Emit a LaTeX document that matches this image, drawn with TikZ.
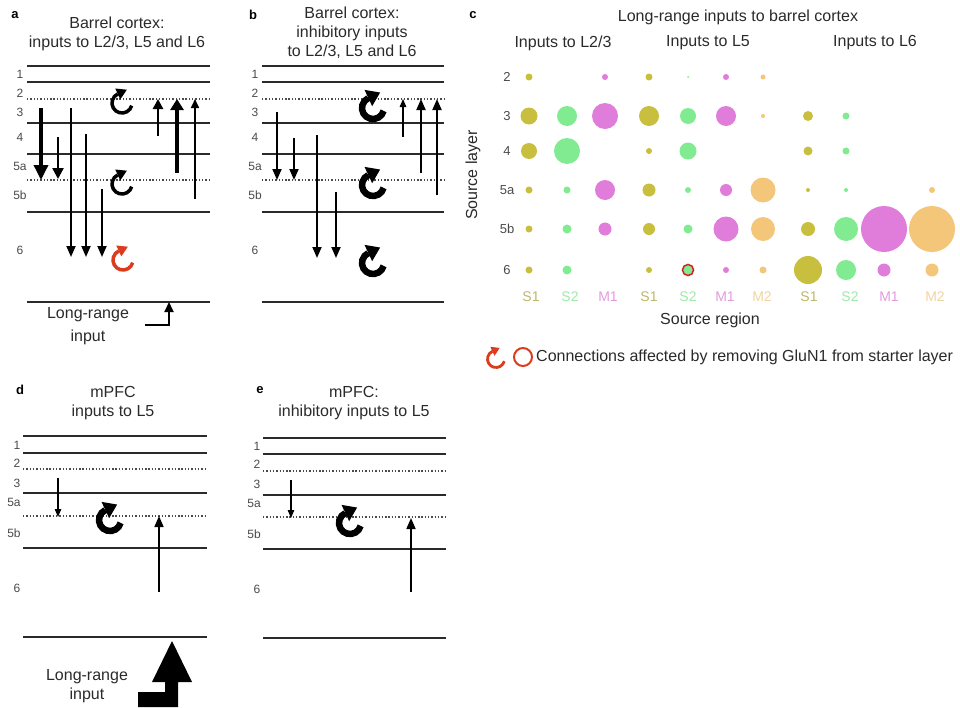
\documentclass[tikz,border=0pt]{standalone}
\usepackage{fontspec}
\setmainfont{Liberation Sans}
\usetikzlibrary{arrows.meta}

\definecolor{ink}{HTML}{2A2A2A}
\definecolor{loopred}{HTML}{DD3B1E}
\definecolor{ringred}{HTML}{C42A1E}
\definecolor{cS1}{HTML}{C9BF3E}
\definecolor{cS2}{HTML}{80EB90}
\definecolor{cM1}{HTML}{E07CDA}
\definecolor{cM2}{HTML}{F3C679}
\definecolor{tS1}{HTML}{BDB66C}
\definecolor{tS2}{HTML}{9DEAA8}
\definecolor{tM1}{HTML}{E29BDE}
\definecolor{tM2}{HTML}{F1D3A0}

\tikzset{
  layer/.style={draw=ink, line width=1.2pt},
  sublayer/.style={draw=ink!85, line width=1.2pt, dash pattern=on 1.4pt off 1.9pt},
  laylbl/.style={font=\fontsize{12}{14}\selectfont, text=ink!85},
  ttl/.style={font=\fontsize{16}{19}\selectfont, text=ink, align=center},
  panel/.style={font=\bfseries\fontsize{13}{15}\selectfont, text=black},
  projthick/.style={draw=black, line width=3.4pt, -{Triangle[length=15pt,width=14pt]}},
  projmid/.style={draw=black, line width=2.4pt, -{Triangle[length=11pt,width=11pt]}},
  proj/.style={draw=black, line width=1.8pt, -{Triangle[length=11pt,width=9pt]}},
  projfine/.style={draw=black, line width=1.1pt, -{Triangle[length=8pt,width=6.5pt]}},
  collbl/.style={font=\fontsize{14}{16}\selectfont},
  rowlbl/.style={font=\fontsize{13}{15}\selectfont, text=ink!85},
}

% recurrent (local) connection: clockwise open circle with a head leaving the top
% #1 name, #2/#3 centre, #4 colour, #5 radius, #6 stroke, #7 head width, #8 head length
\newcommand\recur[8]{%
  \coordinate (#1) at (#2,#3);
  \begin{scope}[shift={(#1)}, x=1pt, y=1pt]
    \draw[#4, line width=#6pt] (-15:#5) arc[start angle=-15, end angle=-245, radius=#5];
    \fill[#4, rotate=115] ({#5+#7/2},0) -- ({#5-#7/2},0) -- (#5,-#8) -- cycle;
  \end{scope}}
% one bubble of the input matrix
\newcommand\bub[4]{\fill[#4] (#1,#2) circle[radius=#3];}

\begin{document}
\begin{tikzpicture}[x=1pt, y=-1pt]
\useasboundingbox (0,0) rectangle (960,707);

% ================= panel a =================
\node[panel] (pa) at (15,15) {a};
\node[ttl] (ta) at (117,34) {Barrel cortex:\\inputs to L2/3, L5 and L6};
\foreach \y in {66,82,123,154,212,302} \draw[layer] (27,\y) -- (210,\y);
\foreach \y in {99,180} \draw[sublayer] (27,\y) -- (210,\y);
\node[laylbl] (la1) at (20,74) {1};
\node[laylbl] (la2) at (20,93) {2};
\node[laylbl] (la3) at (20,112) {3};
\node[laylbl] (la4) at (20,137) {4};
\node[laylbl] (la5a) at (20,166) {5a};
\node[laylbl] (la5b) at (20,195) {5b};
\node[laylbl] (la6) at (20,250) {6};
% descending projections
\coordinate (a1s) at (41,108);  \coordinate (a1e) at (41,180);
\coordinate (a2s) at (58,137);  \coordinate (a2e) at (58,179);
\coordinate (a3s) at (71,108);  \coordinate (a3e) at (71,257);
\coordinate (a4s) at (86,134);  \coordinate (a4e) at (86,257);
\coordinate (a5s) at (102,189); \coordinate (a5e) at (102,257);
\draw[projthick] (a1s) -- (a1e);
\draw[projmid] (a2s) -- (a2e);
\draw[proj] (a3s) -- (a3e);
\draw[proj] (a4s) -- (a4e);
\draw[proj] (a5s) -- (a5e);
% ascending projections
\coordinate (a6s) at (158,136); \coordinate (a6e) at (158,99);
\coordinate (a7s) at (177,173); \coordinate (a7e) at (177,99);
\coordinate (a8s) at (195,199); \coordinate (a8e) at (195,99);
\draw[draw=black, line width=2.6pt, -{Triangle[length=10pt,width=10pt]}] (a6s) -- (a6e);
\draw[draw=black, line width=3.2pt, -{Triangle[length=11pt,width=13pt]}] (a7s) -- (a7e);
\draw[draw=black, line width=1.6pt, -{Triangle[length=9pt,width=8pt]}] (a8s) -- (a8e);
% local loops
\recur{ra1}{122}{103}{black}{10}{3.5}{12}{10}
\recur{ra2}{122}{184}{black}{10}{3.5}{12}{10}
\recur{ra3}{123}{260}{loopred}{10}{3.5}{12}{10}
% long-range input
\node[ttl] (lra1) at (88,315) {Long-range};
\node[ttl] (lra2) at (88,337) {input};
\coordinate (lrs) at (145,325); \coordinate (lre) at (169,302);
\draw[draw=black, line width=2pt, -{Triangle[length=10pt,width=9pt]}] (lrs) -| (lre);

% ================= panel b =================
\node[panel] (pb) at (253,15) {b};
\node[ttl] (tb) at (352,33) {Barrel cortex:\\inhibitory inputs\\to L2/3, L5 and L6};
\foreach \y in {66,82,123,154,212,302} \draw[layer] (262,\y) -- (444,\y);
\foreach \y in {99,180} \draw[sublayer] (262,\y) -- (444,\y);
\node[laylbl] (lb1) at (255,74) {1};
\node[laylbl] (lb2) at (255,93) {2};
\node[laylbl] (lb3) at (255,112) {3};
\node[laylbl] (lb4) at (255,137) {4};
\node[laylbl] (lb5a) at (255,166) {5a};
\node[laylbl] (lb5b) at (255,195) {5b};
\node[laylbl] (lb6) at (255,250) {6};
\coordinate (b1s) at (277,112); \coordinate (b1e) at (277,180);
\coordinate (b2s) at (294,138); \coordinate (b2e) at (294,180);
\coordinate (b3s) at (317,135); \coordinate (b3e) at (317,258);
\coordinate (b4s) at (336,192); \coordinate (b4e) at (336,258);
\draw[proj] (b1s) -- (b1e);
\draw[proj] (b2s) -- (b2e);
\draw[proj] (b3s) -- (b3e);
\draw[proj] (b4s) -- (b4e);
\coordinate (b5s) at (403,137); \coordinate (b5e) at (403,99);
\coordinate (b6s) at (421,173); \coordinate (b6e) at (421,99);
\coordinate (b7s) at (437,195); \coordinate (b7e) at (437,99);
\draw[projfine] (b5s) -- (b5e);
\draw[proj] (b6s) -- (b6e);
\draw[proj] (b7s) -- (b7e);
\recur{rb1}{373}{108}{black}{11}{6.5}{18}{13}
\recur{rb2}{373}{185}{black}{11}{6.5}{18}{13}
\recur{rb3}{373}{263}{black}{11}{6.5}{18}{13}

% ================= panel c =================
\node[panel] (pc) at (473,15) {c};
\node[ttl] (tc) at (738,17) {Long-range inputs to barrel cortex};
\node[ttl] (hc1) at (563,43) {Inputs to L2/3};
\node[ttl] (hc2) at (708,43) {Inputs to L5};
\node[ttl] (hc3) at (875,43) {Inputs to L6};
\node[ttl, rotate=90] (ylab) at (473,175) {Source layer};
\node[ttl] (xlab) at (710,320) {Source region};
\node[rowlbl] (r2) at (507,77) {2};
\node[rowlbl] (r3) at (507,116) {3};
\node[rowlbl] (r4) at (507,151) {4};
\node[rowlbl] (r5a) at (507,190) {5a};
\node[rowlbl] (r5b) at (507,229) {5b};
\node[rowlbl] (r6) at (507,270) {6};
% row 2
\bub{529}{77}{3.5}{cS1} \bub{605}{77}{3}{cM1}
\bub{649}{77}{3.5}{cS1} \bub{688}{77}{1}{cS2} \bub{726}{77}{3}{cM1} \bub{763}{77}{2.5}{cM2}
% row 3
\bub{529}{116}{8.5}{cS1} \bub{567}{116}{10}{cS2} \bub{605}{116}{13}{cM1}
\bub{649}{116}{10}{cS1} \bub{688}{116}{8}{cS2} \bub{726}{116}{10}{cM1} \bub{763}{116}{2}{cM2}
\bub{808}{116}{5}{cS1} \bub{846}{116}{3.5}{cS2}
% row 4
\bub{529}{151}{8}{cS1} \bub{567}{151}{13}{cS2}
\bub{649}{151}{3}{cS1} \bub{688}{151}{8.5}{cS2}
\bub{808}{151}{4.5}{cS1} \bub{846}{151}{3.5}{cS2}
% row 5a
\bub{529}{190}{3.5}{cS1} \bub{567}{190}{3.5}{cS2} \bub{605}{190}{10}{cM1}
\bub{649}{190}{6.5}{cS1} \bub{688}{190}{3}{cS2} \bub{726}{190}{6}{cM1} \bub{763}{190}{12.5}{cM2}
\bub{808}{190}{2}{cS1} \bub{846}{190}{2}{cS2} \bub{932}{190}{3}{cM2}
% row 5b
\bub{529}{229}{3.5}{cS1} \bub{567}{229}{4.5}{cS2} \bub{605}{229}{6.5}{cM1}
\bub{649}{229}{6}{cS1} \bub{688}{229}{4.5}{cS2} \bub{726}{229}{12.5}{cM1} \bub{763}{229}{12}{cM2}
\bub{808}{229}{7}{cS1} \bub{846}{229}{12}{cS2} \bub{884}{229}{23}{cM1} \bub{932}{229}{23}{cM2}
% row 6
\bub{529}{270}{3.5}{cS1} \bub{567}{270}{4.5}{cS2}
\bub{649}{270}{3}{cS1} \bub{688}{270}{4.5}{cS2} \bub{726}{270}{3}{cM1} \bub{763}{270}{3.5}{cM2}
\bub{808}{270}{14}{cS1} \bub{846}{270}{10}{cS2} \bub{884}{270}{6.5}{cM1} \bub{932}{270}{6.5}{cM2}
\draw[ringred, line width=1.6pt] (688,270) circle[radius=5.5];
% region labels
\node[collbl, text=tS1] (x1) at (531,297) {S1};
\node[collbl, text=tS2] (x2) at (570,297) {S2};
\node[collbl, text=tM1] (x3) at (608,297) {M1};
\node[collbl, text=tS1] (x4) at (649,297) {S1};
\node[collbl, text=tS2] (x5) at (688,297) {S2};
\node[collbl, text=tM1] (x6) at (725,297) {M1};
\node[collbl, text=tM2] (x7) at (762,297) {M2};
\node[collbl, text=tS1] (x8) at (809,297) {S1};
\node[collbl, text=tS2] (x9) at (850,297) {S2};
\node[collbl, text=tM1] (x10) at (889,297) {M1};
\node[collbl, text=tM2] (x11) at (935,297) {M2};
% legend
\recur{rleg}{496}{359}{loopred}{8.5}{2.8}{10}{8}
\draw[loopred, line width=2pt] (523,357) circle[radius=9];
\node[ttl, anchor=west, inner sep=0pt] (leg) at (536,357) {Connections affected by removing GluN1 from starter layer};

% ================= panel d =================
\node[panel] (pd) at (20,390) {d};
\node[ttl] (td) at (113,403) {mPFC\\inputs to L5};
\foreach \y in {436,453,493,548,637} \draw[layer] (23,\y) -- (207,\y);
\foreach \y in {469,516} \draw[sublayer] (23,\y) -- (207,\y);
\node[laylbl] (ld1) at (17,445) {1};
\node[laylbl] (ld2) at (17,463) {2};
\node[laylbl] (ld3) at (17,483) {3};
\node[laylbl] (ld5a) at (14,502) {5a};
\node[laylbl] (ld5b) at (14,533) {5b};
\node[laylbl] (ld6) at (17,588) {6};
\coordinate (d1s) at (58,478); \coordinate (d1e) at (58,517);
\coordinate (d2s) at (159,592); \coordinate (d2e) at (159,516);
\draw[projfine] (d1s) -- (d1e);
\draw[draw=black, line width=1.7pt, -{Triangle[length=11pt,width=9pt]}] (d2s) -- (d2e);
\recur{rd1}{110}{520}{black}{11}{6.5}{18}{13}
\node[ttl] (lrd1) at (87,677) {Long-range};
\node[ttl] (lrd2) at (87,695) {input};
% strong long-range input drawn as a block arrow
\fill[black] (172,641) -- (192,682) -- (178,682) -- (178,707) -- (138,707)
  -- (138,692) -- (165,692) -- (165,682) -- (152,682) -- cycle;

% ================= panel e =================
\node[panel] (pe) at (260,390) {e};
\node[ttl] (te) at (354,403) {mPFC:\\inhibitory inputs to L5};
\foreach \y in {438,454,495,549,638} \draw[layer] (263,\y) -- (446,\y);
\foreach \y in {471,517} \draw[sublayer] (263,\y) -- (446,\y);
\node[laylbl] (le1) at (257,446) {1};
\node[laylbl] (le2) at (257,464) {2};
\node[laylbl] (le3) at (257,484) {3};
\node[laylbl] (le5a) at (254,503) {5a};
\node[laylbl] (le5b) at (254,534) {5b};
\node[laylbl] (le6) at (257,589) {6};
\coordinate (e1s) at (291,480); \coordinate (e1e) at (291,518);
\coordinate (e2s) at (411,592); \coordinate (e2e) at (411,518);
\draw[projfine] (e1s) -- (e1e);
\draw[draw=black, line width=1.7pt, -{Triangle[length=11pt,width=9pt]}] (e2s) -- (e2e);
\recur{re1}{350}{523}{black}{11}{6.5}{18}{13}
\end{tikzpicture}
\end{document}
